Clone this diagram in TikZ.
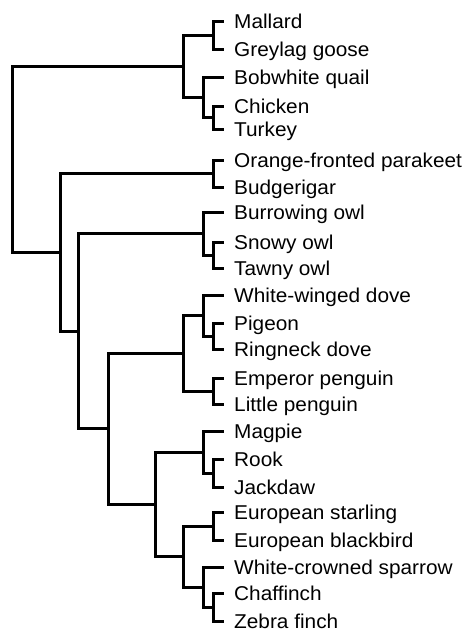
\documentclass[tikz,border=0pt]{standalone}
\usepackage{fontspec}
\setmainfont{Liberation Sans}[FakeStretch=1.04]
\tikzset{
  leaf/.style={anchor=west, inner xsep=10pt, inner ysep=0pt, text height=14pt, text depth=0pt, font=\fontsize{20}{24}\selectfont},
  branch/.style={line width=3pt},
}
\begin{document}
\begin{tikzpicture}[x=1pt,y=-1pt]
\useasboundingbox (0,0) rectangle (470,629);
\node[leaf] (mallard) at (224,21) {Mallard};
\node[leaf] (greylag) at (224,49) {Greylag goose};
\node[leaf] (quail) at (224,77) {Bobwhite quail};
\node[leaf] (chicken) at (224,106) {Chicken};
\node[leaf] (turkey) at (224,129) {Turkey};
\node[leaf] (parakeet) at (224,160) {Orange-fronted parakeet};
\node[leaf] (budgie) at (224,187) {Budgerigar};
\node[leaf] (burrowing) at (224,212) {Burrowing owl};
\node[leaf] (snowy) at (224,242) {Snowy owl};
\node[leaf] (tawny) at (224,268) {Tawny owl};
\node[leaf] (wwdove) at (224,295) {White-winged dove};
\node[leaf] (pigeon) at (224,323) {Pigeon};
\node[leaf] (ringneck) at (224,349) {Ringneck dove};
\node[leaf] (emperor) at (224,378) {Emperor penguin};
\node[leaf] (little) at (224,404) {Little penguin};
\node[leaf] (magpie) at (224,431) {Magpie};
\node[leaf] (rook) at (224,459) {Rook};
\node[leaf] (jackdaw) at (224,487) {Jackdaw};
\node[leaf] (starling) at (224,512) {European starling};
\node[leaf] (blackbird) at (224,540) {European blackbird};
\node[leaf] (sparrow) at (224,567) {White-crowned sparrow};
\node[leaf] (chaffinch) at (224,593) {Chaffinch};
\node[leaf] (zebra) at (224,621) {Zebra finch};

\coordinate (ducks) at (213,35);
\coordinate (fowl2) at (213,117.5);
\coordinate (fowl) at (203,97);
\coordinate (galloans) at (183,66);
\coordinate (parrots) at (213,173.5);
\coordinate (owls2) at (213,255);
\coordinate (owls) at (203,233.5);
\coordinate (doves2) at (213,336);
\coordinate (doves) at (203,315.5);
\coordinate (penguins) at (213,391);
\coordinate (dovepeng) at (183,353);
\coordinate (corvids2) at (213,473);
\coordinate (corvids) at (203,452);
\coordinate (thrushes) at (213,526);
\coordinate (finches) at (213,607);
\coordinate (sparrows) at (203,587);
\coordinate (passer2) at (183,556.5);
\coordinate (passer) at (155,504);
\coordinate (inner3) at (108,428.5);
\coordinate (inner2) at (78,331);
\coordinate (inner1) at (60,252);
\coordinate (root) at (12,159);

\draw[branch] (ducks) |- (mallard.west);
\draw[branch] (ducks) |- (greylag.west);
\draw[branch] (fowl2) |- (chicken.west);
\draw[branch] (fowl2) |- (turkey.west);
\draw[branch] (fowl) |- (quail.west);
\draw[branch] (fowl) |- (fowl2);
\draw[branch] (galloans) |- (ducks);
\draw[branch] (galloans) |- (fowl);
\draw[branch] (parrots) |- (parakeet.west);
\draw[branch] (parrots) |- (budgie.west);
\draw[branch] (owls2) |- (snowy.west);
\draw[branch] (owls2) |- (tawny.west);
\draw[branch] (owls) |- (burrowing.west);
\draw[branch] (owls) |- (owls2);
\draw[branch] (doves2) |- (pigeon.west);
\draw[branch] (doves2) |- (ringneck.west);
\draw[branch] (doves) |- (wwdove.west);
\draw[branch] (doves) |- (doves2);
\draw[branch] (penguins) |- (emperor.west);
\draw[branch] (penguins) |- (little.west);
\draw[branch] (dovepeng) |- (doves);
\draw[branch] (dovepeng) |- (penguins);
\draw[branch] (corvids2) |- (rook.west);
\draw[branch] (corvids2) |- (jackdaw.west);
\draw[branch] (corvids) |- (magpie.west);
\draw[branch] (corvids) |- (corvids2);
\draw[branch] (thrushes) |- (starling.west);
\draw[branch] (thrushes) |- (blackbird.west);
\draw[branch] (finches) |- (chaffinch.west);
\draw[branch] (finches) |- (zebra.west);
\draw[branch] (sparrows) |- (sparrow.west);
\draw[branch] (sparrows) |- (finches);
\draw[branch] (passer2) |- (thrushes);
\draw[branch] (passer2) |- (sparrows);
\draw[branch] (passer) |- (corvids);
\draw[branch] (passer) |- (passer2);
\draw[branch] (inner3) |- (dovepeng);
\draw[branch] (inner3) |- (passer);
\draw[branch] (inner2) |- (owls);
\draw[branch] (inner2) |- (inner3);
\draw[branch] (inner1) |- (parrots);
\draw[branch] (inner1) |- (inner2);
\draw[branch] (root) |- (galloans);
\draw[branch] (root) |- (inner1);
\end{tikzpicture}
\end{document}
